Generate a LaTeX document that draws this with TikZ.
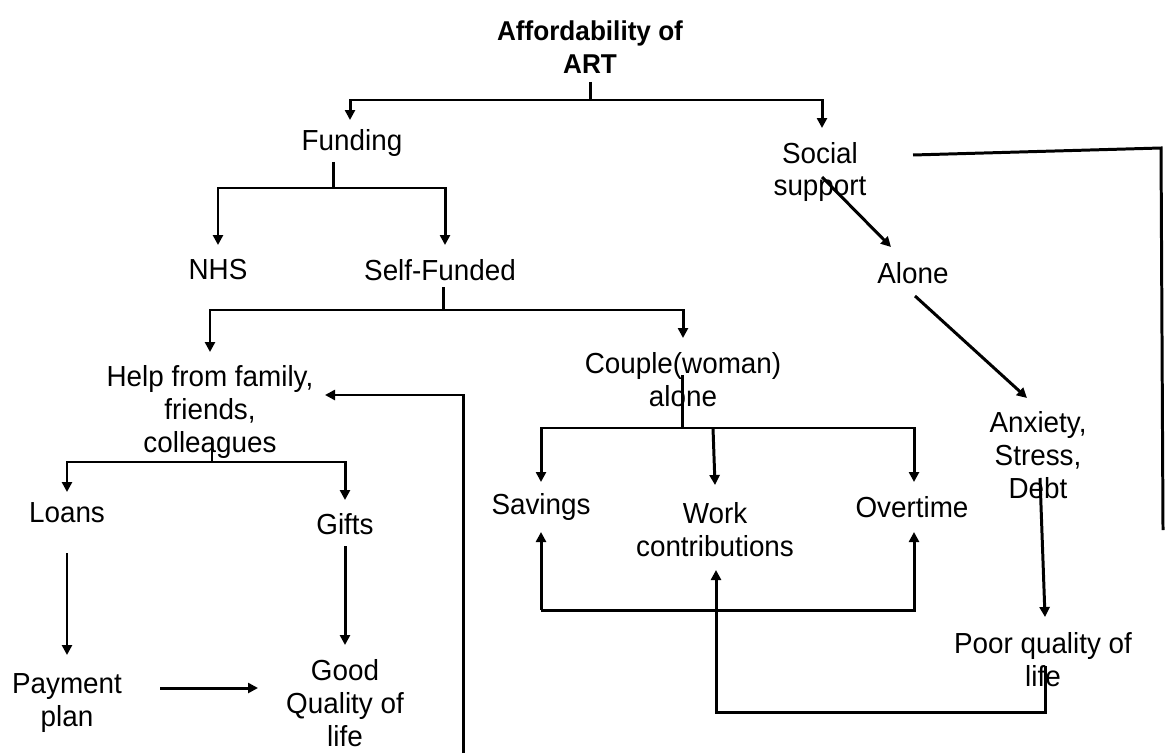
\documentclass[tikz,border=0pt]{standalone}
\usepackage{fontspec}
\setmainfont{Liberation Sans}[FakeStretch=0.96]
\usetikzlibrary{arrows.meta}
\tikzset{
  lbl/.style={inner sep=0pt, outer sep=0pt, align=center, font=\fontsize{16.5}{18.7}\selectfont},
  ttl/.style={lbl, font=\fontsize{15.5}{18.7}\selectfont\bfseries},
  conn/.style={line width=1.7pt, line cap=butt, line join=miter},
  arr/.style={conn, -{Triangle[length=0.2cm, width=0.2cm]}}
}
\begin{document}
\begin{tikzpicture}[x=0.02cm, y=-0.02cm]
\useasboundingbox (0,0) rectangle (1168,753);

% ---- labels ----
\node[ttl] (art) at (590,47) {Affordability of\\ART};
\node[lbl] (fund) at (352,143) {Funding};
\node[lbl] (soc) at (820,172) {Social\\support};
\node[lbl] (nhs) at (218,270) {NHS};
\node[lbl] (self) at (440,270) {Self-Funded};
\node[lbl] (help) at (210,412) {Help from family,\\friends,\\colleagues};
\node[lbl] (cpl) at (683,380) {Couple(woman)\\alone};
\node[lbl] (sav) at (541,507) {Savings};
\node[lbl] (work) at (715,530) {Work\\contributions};
\node[lbl] (over) at (912,507) {Overtime};
\node[lbl] (loan) at (67,513) {Loans};
\node[lbl] (gift) at (345,524) {Gifts};
\node[lbl] (pay) at (67,703) {Payment\\plan};
\node[lbl] (good) at (345,703) {Good\\Quality of\\life};
\node[lbl] (alone) at (913,273) {Alone};
\node[lbl] (anx) at (1038,455) {Anxiety,\\Stress,\\Debt};
\node[lbl] (poor) at (1043,660) {Poor quality of\\life};

% ---- connector ends ----
\coordinate (artS) at (590,82);
\coordinate (artJ) at (590,100);
\coordinate (fundT) at (350,120);
\coordinate (socT) at (822,128);
\coordinate (fundS) at (333,162);
\coordinate (fundJ) at (333,188);
\coordinate (nhsT) at (218,245);
\coordinate (selfT) at (445,245);
\coordinate (selfS) at (443,287);
\coordinate (selfJ) at (443,310);
\coordinate (helpT) at (210,352);
\coordinate (cplT) at (683,338);
\coordinate (helpS) at (212,438);
\coordinate (helpJ) at (212,462);
\coordinate (loanT) at (67,492);
\coordinate (giftT) at (345,500);
\coordinate (cplS) at (682,375);
\coordinate (cplJ) at (682,428);
\coordinate (savT) at (541,482);
\coordinate (overT) at (914,482);
\coordinate (workJ) at (713,428);
\coordinate (workT) at (715,485);
\coordinate (loanB) at (67,553);
\coordinate (payT) at (67,655);
\coordinate (giftB) at (345,546);
\coordinate (goodT) at (345,645);
\coordinate (payE) at (160,688);
\coordinate (goodW) at (258,688);
\coordinate (helpFree) at (463,753);
\coordinate (helpE) at (325,395);
\coordinate (savB) at (541,532);
\coordinate (overB) at (914,532);
\coordinate (upJ) at (541,610);
\coordinate (poorS) at (1045,666);
\coordinate (workB) at (716,570);
\coordinate (debtS) at (1040,478);
\coordinate (poorT) at (1045,617);
\coordinate (socS) at (822,177);
\coordinate (aloneT) at (891,247);
\coordinate (aloneS) at (915,296);
\coordinate (anxT) at (1027,398);
\coordinate (socE) at (913,155);
\coordinate (socC) at (1161,148);
\coordinate (socFree) at (1163,530);

% ---- tree branches ----
\draw[conn] (artS) -- (artJ);
\draw[arr] (artJ) -| (fundT);
\draw[arr] (artJ) -| (socT);

\draw[conn] (fundS) -- (fundJ);
\draw[arr] (fundJ) -| (nhsT);
\draw[arr] (fundJ) -| (selfT);

\draw[conn] (selfS) -- (selfJ);
\draw[arr] (selfJ) -| (helpT);
\draw[arr] (selfJ) -| (cplT);

\draw[conn] (helpS) -- (helpJ);
\draw[arr] (helpJ) -| (loanT);
\draw[arr] (helpJ) -| (giftT);

\draw[conn] (cplS) -- (cplJ);
\draw[arr] (cplJ) -| (savT);
\draw[arr] (cplJ) -| (overT);
\draw[arr] (workJ) -- (workT);

% ---- lower links ----
\draw[arr] (loanB) -- (payT);
\draw[arr] (giftB) -- (goodT);
\draw[arr] (payE) -- (goodW);
\draw[arr] (helpFree) |- (helpE);

\draw[arr] (upJ) -- (savB);
\draw[arr] (upJ) -| (overB);
\draw[arr] (poorS) |- (716,712) -- (workB);

% ---- social support branch ----
\draw[arr] (socS) -- (aloneT);
\draw[arr] (aloneS) -- (anxT);
\draw[arr] (debtS) -- (poorT);
\draw[conn] (socE) -- (socC) -- (socFree);
\end{tikzpicture}
\end{document}
